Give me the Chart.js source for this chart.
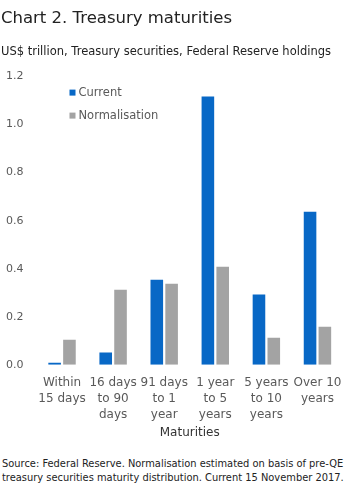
<!DOCTYPE html>
<html>
<head>
<meta charset="utf-8">
<script src="https://cdn.jsdelivr.net/npm/chart.js@4"></script>
<style>
  body { margin: 0; background: #fff; }
  #wrap { position: relative; width: 353px; height: 490px; }
  #source { position: absolute; left: 2px; top: 457px; font: 9.9px 'DejaVu Sans', sans-serif; color: #222; line-height: 14px; white-space: nowrap; }
</style>
</head>
<body>
<div id="wrap">
  <canvas id="chart" width="353" height="444"></canvas>
  <div id="source">Source: Federal Reserve. Normalisation estimated on basis of pre-QE<br>treasury securities maturity distribution. Current 15 November 2017.</div>
</div>
<script>
const categorias = [
    ['Within', '15 days'],
    ['16 days', 'to 90', 'days'],
    ['91 days', 'to 1', 'year'],
    ['1 year', 'to 5', 'years'],
    ['5 years', 'to 10', 'years'],
    ['Over 10', 'years']
];
const actual = [0.008, 0.051, 0.354, 1.117, 0.292, 0.637];
const normalizacion = [0.104, 0.312, 0.337, 0.408, 0.112, 0.158];
const ticksY = [0, 0.2, 0.4, 0.6, 0.8, 1.0, 1.2];

const fuente = "'DejaVu Sans', sans-serif";
const canvas = document.getElementById('chart');

// Leyenda dentro del área del gráfico, arriba a la izquierda
const leyendaInterna = {
    id: 'leyendaInterna',
    afterDraw(chart) {
        const ctx = chart.ctx;
        const x = chart.chartArea.left + 33;
        let y = chart.chartArea.top + 16;
        ctx.save();
        ctx.font = "11.5px " + fuente;
        ctx.textBaseline = 'middle';
        chart.data.datasets.forEach((ds) => {
            ctx.fillStyle = ds.backgroundColor;
            ctx.fillRect(x, y - 3, 6, 6);
            ctx.fillStyle = '#595959';
            ctx.fillText(ds.label, x + 9, y);
            y += 23;
        });
        ctx.restore();
    }
};

new Chart(canvas, {
    type: 'bar',
    data: {
        labels: categorias,
        datasets: [
            { label: 'Current', data: actual, backgroundColor: '#0868c6' },
            { label: 'Normalisation', data: normalizacion, backgroundColor: '#a3a3a3' }
        ]
    },
    options: {
        responsive: false,
        animation: false,
        datasets: { bar: { categoryPercentage: 0.58, barPercentage: 0.85 } },
        layout: { padding: { left: 1, right: 10, top: 0, bottom: 0 } },
        plugins: {
            title: {
                display: true, text: 'Chart 2. Treasury maturities', align: 'start',
                color: '#222', font: { family: fuente, size: 16.5, weight: 'normal' },
                padding: { top: 9, bottom: 16 }
            },
            subtitle: {
                display: true, text: 'US$ trillion, Treasury securities, Federal Reserve holdings', align: 'start',
                color: '#222', font: { family: fuente, size: 11.5 },
                padding: { top: 0, bottom: 18 }
            },
            legend: { display: false },
            tooltip: { enabled: false }
        },
        scales: {
            x: {
                grid: { display: false }, border: { display: false },
                ticks: { color: '#595959', font: { family: fuente, size: 12, lineHeight: 1.33 }, maxRotation: 0, autoSkip: false, padding: 2 },
                title: { display: true, text: 'Maturities', color: '#333', font: { family: fuente, size: 12 }, padding: { top: 1 } }
            },
            y: {
                min: 0, max: 1.2,
                grid: { display: false }, border: { display: false },
                afterBuildTicks: (ax) => { ax.ticks = ticksY.map(v => ({ value: v })); },
                ticks: { color: '#595959', font: { family: fuente, size: 11 }, callback: (v) => Number(v).toFixed(1), padding: 5 }
            }
        }
    },
    plugins: [leyendaInterna]
});
</script>
</body>
</html>
